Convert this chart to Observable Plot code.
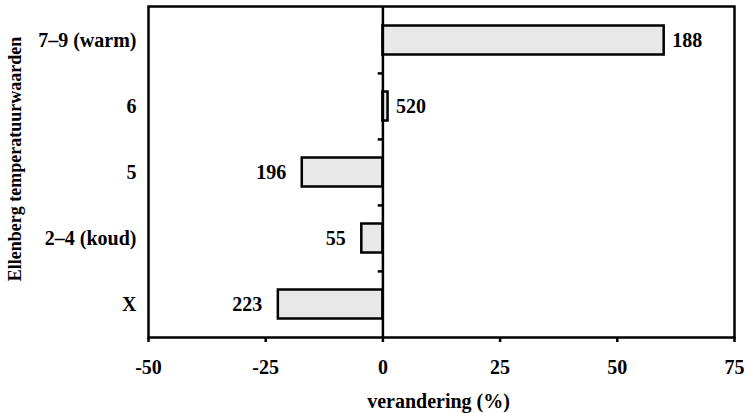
<!DOCTYPE html>
<html>
<head>
<meta charset="utf-8">
<script src="https://cdn.jsdelivr.net/npm/d3@7"></script>
<script src="https://cdn.jsdelivr.net/npm/@observablehq/plot@0.6"></script>
<style>
  html, body { margin: 0; padding: 0; background: #fff; }
</style>
</head>
<body>
<div id="chart"></div>
<script>
const categories = ["7–9 (warm)", "6", "5", "2–4 (koud)", "X"];
const changes = [60.0, 1.1, -17.2, -4.5, -22.3];
const counts = [188, 520, 196, 55, 223];
const xTicks = [-50, -25, 0, 25, 50, 75];
const yTitle = "Ellenberg temperatuurwaarden";
const xTitle = "verandering (%)";

const data = categories.map((c, i) => ({cat: c, value: changes[i], n: counts[i]}));
const font = "'Liberation Serif', 'Times New Roman', serif";

const chart = Plot.plot({
  width: 746,
  height: 413,
  marginLeft: 148,
  marginTop: 6,
  marginRight: 12,
  marginBottom: 76,
  style: {fontFamily: font, fontSize: "20px", fontWeight: "bold", background: "#fff", color: "#000"},
  x: {domain: [-50, 75]},
  y: {domain: categories, padding: 0},
  marks: [
    Plot.barX(data, {x: "value", y: "cat", fill: "#e8e8e8", stroke: "#000", strokeWidth: 2.5, insetTop: 18.5, insetBottom: 18.5}),
    Plot.ruleX([0], {stroke: "#000", strokeWidth: 2.5}),
    Plot.ruleY(categories.slice(1), {y: d => d, x1: -1, x2: 0, dy: -33.1, stroke: "#000", strokeWidth: 2.5}),
    Plot.text(data.filter(d => d.value >= 0), {x: "value", y: "cat", text: d => String(d.n), textAnchor: "start", dx: 8, fontSize: 20, fontWeight: "bold"}),
    Plot.text(data.filter(d => d.value < 0), {x: "value", y: "cat", text: d => String(d.n), textAnchor: "end", dx: -16, fontSize: 20, fontWeight: "bold"}),
    Plot.frame({stroke: "#000", strokeWidth: 2.5}),
    Plot.axisX(xTicks, {tickSize: 5, tickPadding: 17, strokeWidth: 2.5, label: null, tickFormat: d => String(d)}),
    Plot.axisY({tickSize: 0, tickPadding: 12, label: null}),
    Plot.text([xTitle], {frameAnchor: "bottom", textAnchor: "middle", lineAnchor: "middle", dx: -3, dy: 64, fontSize: 20, fontWeight: "bold"}),
    Plot.text([yTitle], {frameAnchor: "left", textAnchor: "middle", lineAnchor: "middle", rotate: -90, dx: -133, dy: -13, fontSize: 18, fontWeight: "bold"})
  ]
});
document.getElementById("chart").appendChild(chart);
</script>
</body>
</html>
